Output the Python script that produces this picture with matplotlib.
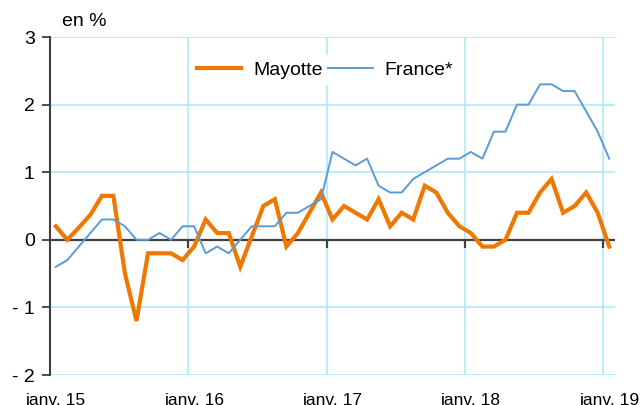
import matplotlib
matplotlib.use("Agg")
import matplotlib.pyplot as plt
from matplotlib.ticker import FixedLocator, FixedFormatter

plt.rcParams['font.family'] = ['Liberation Sans', 'DejaVu Sans']

months = list(range(49))  # janv. 15 .. janv. 19
xtick_pos = [0, 12, 24, 36, 48]
xtick_labels = ["janv. 15", "janv. 16", "janv. 17", "janv. 18", "janv. 19"]
ytick_vals = [-2, -1, 0, 1, 2, 3]
ytick_labels = ["- 2", "- 1", "0", "1", "2", "3"]

mayotte = [0.2, 0.0, 0.18, 0.37, 0.65, 0.65, -0.5, -1.2, -0.2, -0.2, -0.2, -0.3,
           -0.1, 0.3, 0.1, 0.1, -0.4, 0.05, 0.5, 0.6, -0.1, 0.1, 0.4, 0.7,
           0.3, 0.5, 0.4, 0.3, 0.6, 0.2, 0.4, 0.3, 0.8, 0.7, 0.4, 0.2,
           0.1, -0.1, -0.1, 0.0, 0.4, 0.4, 0.7, 0.9, 0.4, 0.5, 0.7, 0.4,
           -0.1]
france = [-0.4, -0.3, -0.1, 0.1, 0.3, 0.3, 0.2, 0.0, 0.0, 0.1, 0.0, 0.2,
          0.2, -0.2, -0.1, -0.2, 0.0, 0.2, 0.2, 0.2, 0.4, 0.4, 0.5, 0.6,
          1.3, 1.2, 1.1, 1.2, 0.8, 0.7, 0.7, 0.9, 1.0, 1.1, 1.2, 1.2,
          1.3, 1.2, 1.6, 1.6, 2.0, 2.0, 2.3, 2.3, 2.2, 2.2, 1.9, 1.6,
          1.2]

ORANGE = "#F07800"
BLUE = "#5B9BD5"
GRID = "#aeeaf6"
DARK = "#404040"

fig = plt.figure(figsize=(6.4, 4.05), dpi=100)
W, H = 640, 405
ax = fig.add_axes([50 / W, 1 - 375 / H, (615 - 50) / W, (375 - 37) / H])

ax.set_xlim(-0.5, 48.5)
ax.set_ylim(-2, 3)

# grid
ax.xaxis.set_major_locator(FixedLocator(xtick_pos))
ax.xaxis.set_major_formatter(FixedFormatter(xtick_labels))
year_bounds = [p - 0.5 for p in xtick_pos[1:]]
ax.xaxis.set_minor_locator(FixedLocator(year_bounds))
ax.yaxis.set_major_locator(FixedLocator(ytick_vals))
ax.yaxis.set_major_formatter(FixedFormatter(ytick_labels))
ax.grid(True, which='minor', axis='x', color=GRID, lw=1.2, zorder=0)
ax.grid(True, which='major', axis='y', color=GRID, lw=1.2, zorder=0)
ax.grid(False, which='major', axis='x')
ax.set_axisbelow(True)

for s in ['top', 'right', 'bottom']:
    ax.spines[s].set_visible(False)
ax.spines['left'].set_color(DARK)
ax.spines['left'].set_linewidth(1.5)

ax.tick_params(axis='y', which='major', direction='out', length=6, width=1.3,
               color=DARK, labelsize=14, pad=5)
ax.tick_params(axis='x', which='both', length=0, labelsize=12.5, pad=13)

# zero line with downward ticks at year boundaries
ax.axhline(0, color=DARK, lw=1.6, zorder=2)
ax.vlines(year_bounds, -0.12, 0, color=DARK, lw=1.6, zorder=2)

ax.plot(months, mayotte, color=ORANGE, lw=3.0, label="Mayotte", zorder=3,
        solid_joinstyle='miter')
ax.plot(months, france, color=BLUE, lw=1.4, label="France*", zorder=4)

leg = ax.legend(loc='center', bbox_to_anchor=((325 - 50) / 565, (375 - 70) / 338),
                ncol=2, frameon=True, fontsize=14, handlelength=2.3,
                handletextpad=0.6, columnspacing=0.3, borderpad=0.3)
leg.get_frame().set_edgecolor('none')
leg.get_frame().set_facecolor('white')
leg.get_frame().set_alpha(1)

fig.text(62 / W, 1 - 22 / H, "en %", fontsize=14, va='center', ha='left')

fig.savefig("out.png", dpi=100)
